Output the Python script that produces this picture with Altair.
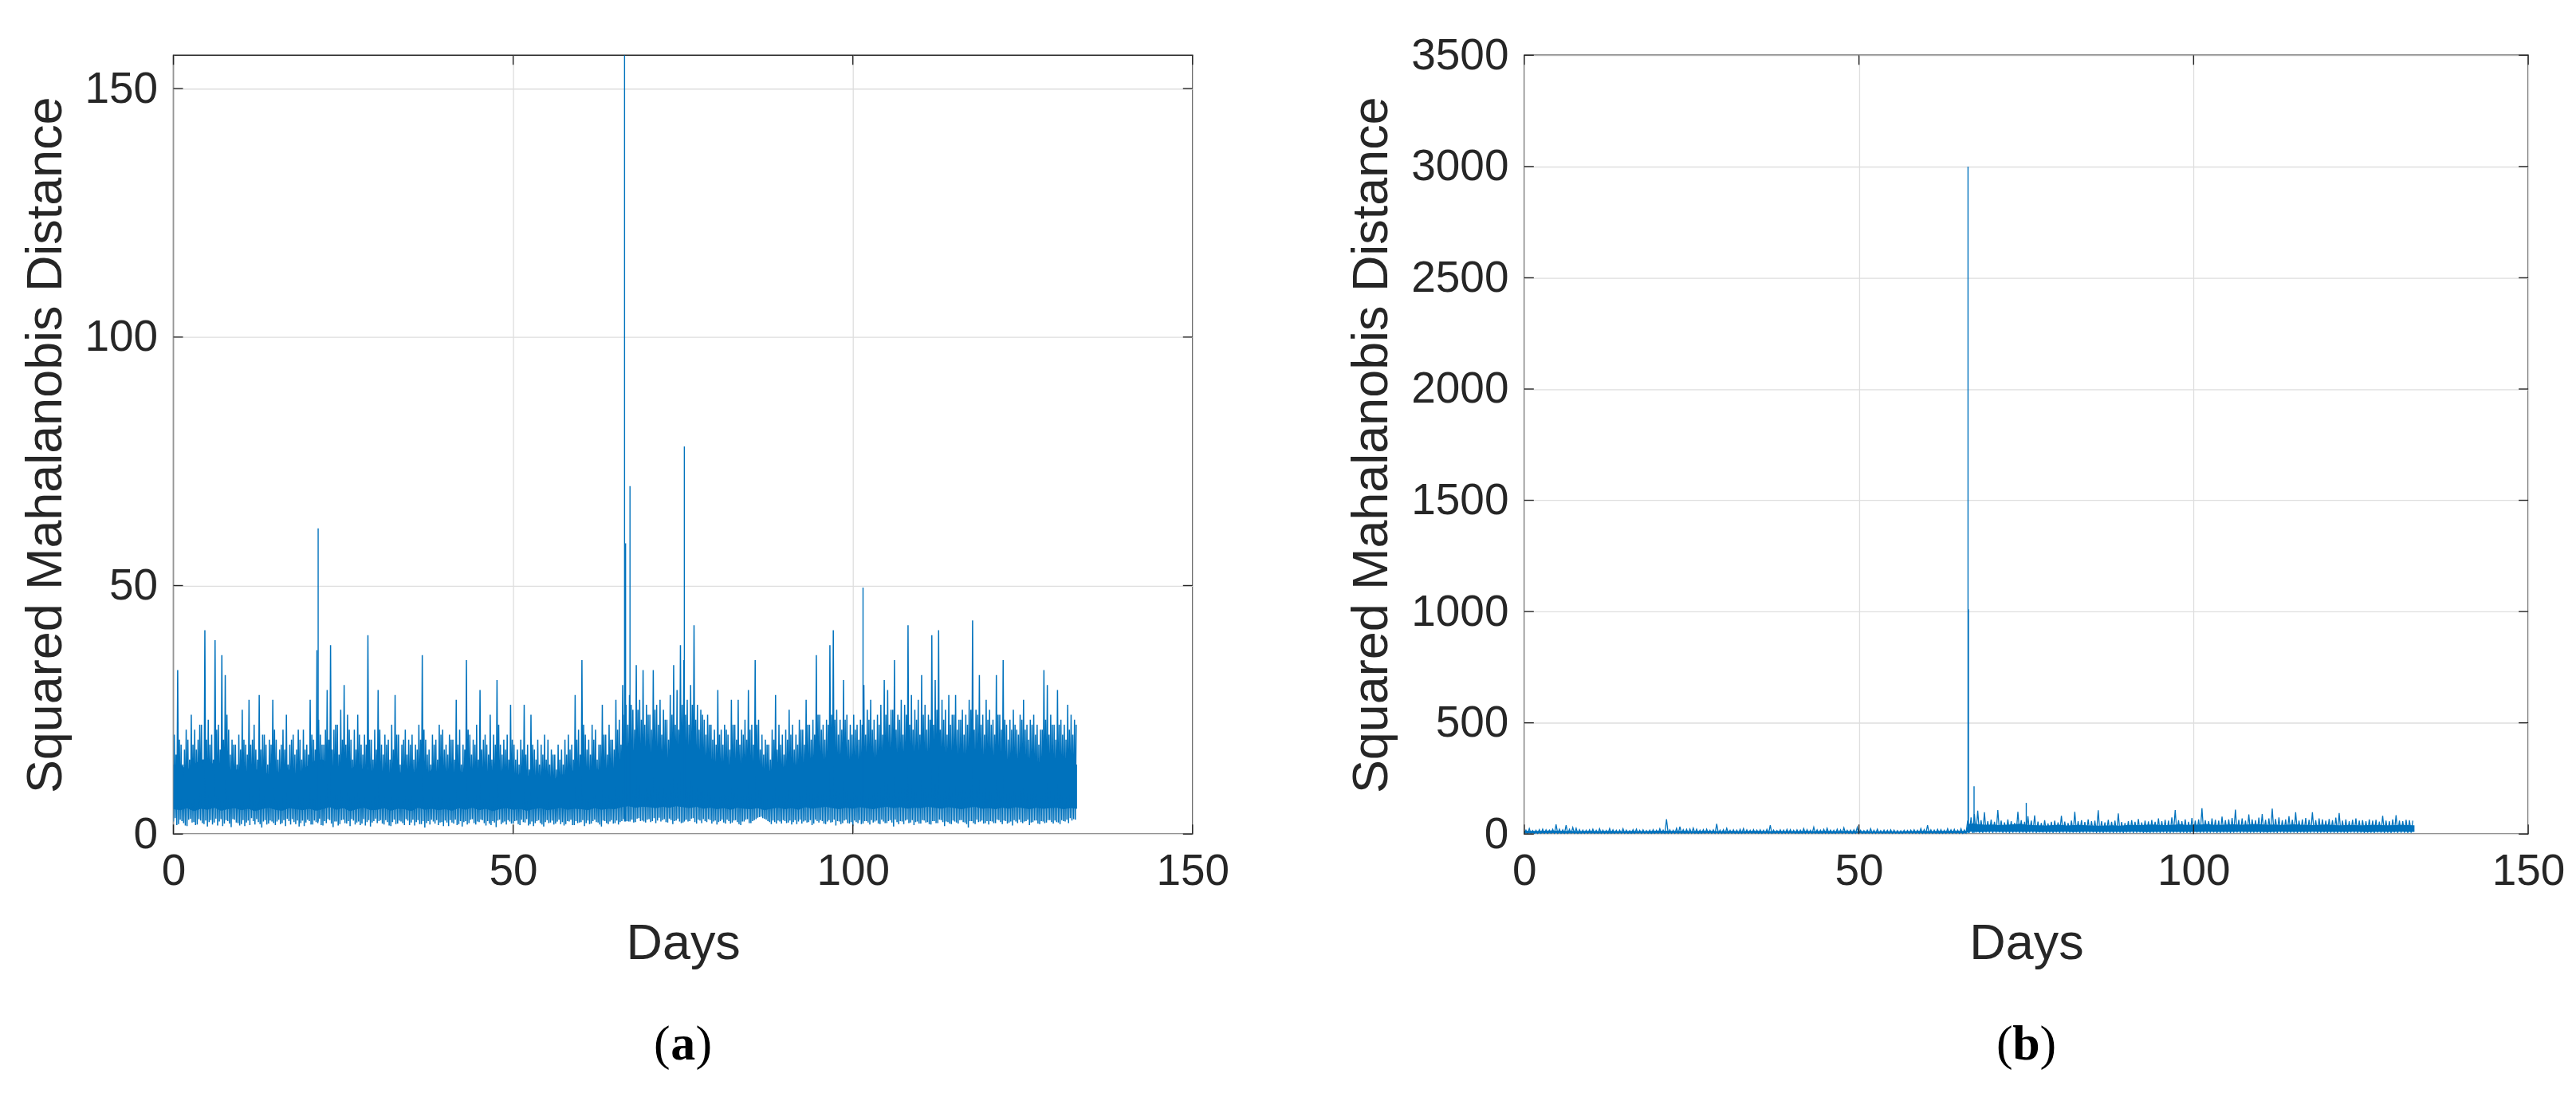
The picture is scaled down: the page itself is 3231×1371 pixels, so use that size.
import altair as alt
import pandas as pd

BLUE = "#0072BD"
DARK = "#262626"
GRID = "#dedede"
FONT = "Liberation Sans"
SERIF = "Liberation Serif"

# ---------------- panel (a) ----------------
# per half-day bin: maximum / minimum in the first and second quarter-day of the bin
a_pk = [20, 33, 18, 17, 19, 24, 21, 19, 22, 41,
        23, 20, 39, 22, 36, 32, 21, 19, 18, 20,
        25, 18, 27, 19, 17, 28, 20, 18, 19, 27,
        19, 17, 21, 24, 18, 20, 17, 19, 21, 18,
        27, 19, 37, 20, 18, 29, 38, 21, 22, 25,
        30, 24, 19, 21, 24, 18, 20, 40, 19, 21,
        29, 18, 20, 19, 22, 28, 20, 18, 21, 19,
        20, 18, 22, 36, 19, 17, 20, 19, 22, 21,
        18, 20, 19, 27, 21, 18, 35, 20, 19, 22,
        29, 19, 18, 24, 20, 31, 18, 19, 20, 26,
        18, 17, 19, 26, 18, 24, 17, 19, 18, 20,
        19, 17, 16, 18, 17, 19, 20, 18, 28, 21,
        35, 20, 19, 22, 21, 18, 26, 20, 22, 19,
        27, 23, 30, 26, 28, 25, 34, 27, 33, 26,
        24, 33, 26, 27, 25, 23, 28, 34, 29, 38,
        35, 27, 30, 42, 26, 25, 23, 24, 22, 21,
        29, 21, 22, 20, 27, 22, 27, 21, 23, 29,
        22, 35, 23, 20, 19, 18, 21, 28, 22, 20,
        21, 25, 22, 20, 23, 21, 27, 22, 23, 36,
        24, 22, 23, 38, 41, 25, 23, 31, 24, 22,
        24, 22, 23, 30, 25, 27, 23, 24, 26, 31,
        29, 25, 35, 24, 27, 26, 42, 28, 25, 27,
        32, 26, 24, 40, 31, 41, 27, 25, 28, 24,
        28, 23, 25, 24, 27, 43, 25, 32, 24, 27,
        25, 23, 32, 24, 35, 22, 23, 25, 21, 24,
        27, 22, 23, 24, 22, 21, 33, 30, 24, 22,
        29, 23, 22, 26, 24, 23]
a_lo = [2.5, 1.8, 2.9, 2.2, 1.6, 3.1, 2.4, 1.9, 2.7, 2.0,
        1.5, 2.8, 2.3, 1.7, 3.0, 2.1, 2.6, 1.4, 2.9, 2.2,
        2.0, 1.6, 2.7, 3.2, 1.9, 2.4, 1.3, 2.8, 2.1, 2.5,
        1.8, 2.9, 2.2, 1.6, 2.6, 3.0, 2.0, 1.5, 2.7, 2.3,
        2.6, 1.9, 2.4, 3.1, 1.7, 2.2, 2.8, 1.4, 2.5, 2.0,
        2.9, 2.1, 1.6, 2.7, 2.3, 1.8, 3.0, 2.4, 1.5, 2.6,
        2.2, 2.8, 1.9, 2.4, 1.6, 2.9, 2.1, 2.5, 1.8, 2.7,
        2.3, 1.7, 2.8, 2.0, 1.3, 2.6, 2.9, 2.1, 1.8, 2.4,
        2.7, 1.6, 2.3, 2.9, 2.0, 1.5, 2.6, 2.2, 3.0, 1.9,
        2.4, 2.8, 1.7, 2.1, 2.6, 1.4, 2.9, 2.3, 1.9, 2.5,
        2.1, 2.7, 1.8, 2.4, 3.0, 2.0, 1.6, 2.6, 2.2, 1.5,
        2.8, 2.3, 1.9, 2.5, 2.0, 1.7, 2.6, 2.9, 1.8, 2.2,
        2.4, 1.6, 2.7, 2.1, 2.9, 2.3, 1.5, 2.6, 2.0, 2.8,
        2.2, 1.9, 2.6, 3.1, 2.5, 2.9, 2.4, 3.2, 2.7, 2.3,
        3.0, 2.6, 2.2, 3.3, 2.8, 2.4, 3.1, 2.0, 2.7, 2.5,
        2.3, 2.9, 2.6, 3.2, 2.1, 2.7, 3.0, 2.4, 2.8, 2.5,
        1.9, 2.6, 2.3, 2.9, 2.1, 2.7, 2.4, 1.8, 2.5, 3.0,
        2.2, 2.8, 3.3, 3.5, 3.1, 2.6, 2.0, 2.4, 2.7, 2.1,
        2.6, 2.3, 1.9, 2.8, 2.5, 2.1, 2.7, 2.4, 1.8, 2.9,
        2.3, 2.6, 2.0, 2.8, 2.4, 1.7, 2.5, 2.2, 2.9, 2.1,
        1.6, 2.4, 2.8, 2.1, 2.6, 1.9, 2.3, 2.7, 2.0, 2.5,
        2.2, 2.8, 1.5, 2.4, 2.6, 2.0, 2.9, 2.3, 1.8, 2.5,
        2.1, 2.7, 2.4, 1.9, 2.6, 2.2, 2.8, 1.6, 2.4, 2.0,
        2.5, 2.1, 2.8, 2.3, 1.3, 2.6, 2.0, 2.4, 2.7, 2.2,
        1.9, 2.5, 2.2, 2.8, 2.0, 2.6, 2.3, 1.7, 2.5, 2.9,
        2.2, 2.6, 1.8, 2.4, 2.7, 2.0, 2.5, 2.3, 2.8, 2.1,
        2.4, 2.0, 2.6, 2.9, 3.2, 3.0]
a_pk2 = [16, 19, 14, 21, 15, 18, 17, 22, 15, 19,
         18, 15, 21, 17, 19, 24, 16, 18, 14, 17,
         19, 16, 18, 22, 15, 17, 20, 14, 18, 21,
         15, 18, 17, 14, 19, 16, 21, 15, 17, 16,
         20, 17, 23, 18, 21, 19, 17, 22, 16, 19,
         18, 21, 15, 17, 20, 16, 18, 19, 15, 17,
         21, 16, 18, 15, 17, 20, 14, 19, 16, 18,
         15, 17, 19, 21, 16, 14, 18, 15, 20, 17,
         16, 19, 15, 18, 14, 17, 21, 16, 18, 15,
         17, 20, 16, 15, 18, 22, 16, 17, 15, 19,
         15, 14, 17, 16, 13, 18, 15, 14, 16, 15,
         14, 16, 13, 15, 14, 16, 17, 15, 19, 16,
         22, 17, 16, 19, 15, 18, 20, 16, 19, 17,
         21, 18, 24, 22, 26, 21, 25, 23, 22, 24,
         21, 25, 22, 20, 23, 19, 24, 22, 21, 26,
         24, 22, 26, 23, 21, 24, 20, 22, 19, 18,
         20, 18, 21, 17, 22, 19, 18, 20, 19, 21,
         18, 22, 17, 16, 18, 15, 19, 17, 18, 16,
         19, 20, 17, 18, 21, 18, 22, 19, 20, 24,
         21, 19, 22, 24, 23, 20, 21, 23, 19, 20,
         21, 19, 22, 20, 23, 21, 19, 22, 20, 24,
         22, 25, 21, 23, 20, 24, 22, 21, 23, 20,
         24, 21, 23, 22, 25, 21, 23, 20, 22, 24,
         21, 23, 20, 22, 25, 21, 24, 22, 20, 23,
         22, 20, 24, 21, 23, 19, 21, 22, 20, 23,
         21, 19, 22, 20, 18, 21, 23, 20, 22, 19,
         22, 20, 19, 21, 20, 22]
a_lo2 = [3.2, 2.0, 2.6, 1.7, 2.9, 2.3, 1.8, 3.0, 2.2, 2.7,
         2.4, 1.9, 3.1, 2.5, 1.6, 2.8, 2.1, 3.0, 2.3, 1.7,
         2.8, 2.3, 1.8, 2.6, 3.0, 2.0, 2.5, 1.9, 2.7, 2.2,
         2.5, 2.0, 2.8, 3.1, 1.9, 2.4, 2.7, 2.2, 1.6, 2.9,
         1.9, 2.7, 2.2, 1.8, 2.6, 3.0, 2.1, 2.5, 1.7, 2.8,
         2.2, 2.6, 3.0, 1.9, 2.5, 2.1, 1.7, 2.8, 2.3, 3.1,
         2.6, 2.1, 2.8, 1.7, 2.4, 2.0, 2.7, 2.2, 3.0, 1.8,
         2.9, 2.4, 2.0, 2.6, 2.2, 1.9, 2.5, 2.8, 2.3, 1.6,
         2.3, 2.8, 2.1, 1.8, 2.6, 2.4, 1.9, 2.9, 2.2, 2.5,
         2.9, 2.2, 2.6, 1.8, 2.3, 2.7, 2.0, 2.5, 2.8, 2.1,
         2.6, 2.0, 2.9, 2.3, 1.7, 2.5, 2.2, 2.8, 1.9, 2.4,
         2.2, 2.7, 2.1, 2.9, 2.4, 2.0, 2.5, 1.8, 2.6, 2.3,
         2.8, 2.2, 2.0, 2.6, 2.4, 1.9, 2.7, 2.2, 2.5, 2.1,
         2.7, 2.4, 3.0, 2.6, 2.9, 2.3, 3.1, 2.6, 2.5, 2.9,
         2.4, 3.2, 2.7, 2.5, 3.0, 2.3, 2.8, 2.6, 3.1, 2.2,
         2.8, 2.5, 3.1, 2.4, 2.9, 2.2, 2.6, 3.0, 2.1, 2.7,
         2.4, 2.9, 2.1, 2.6, 2.3, 2.8, 2.0, 2.5, 2.9, 2.2,
         2.6, 3.0, 3.4, 3.2, 2.9, 2.4, 2.7, 2.1, 2.5, 2.8,
         2.2, 2.7, 2.4, 2.0, 2.9, 2.5, 2.3, 2.8, 2.1, 2.6,
         2.8, 2.1, 2.5, 2.3, 2.9, 2.6, 2.0, 2.7, 2.2, 2.4,
         2.7, 2.2, 2.0, 2.6, 2.3, 2.8, 2.5, 2.1, 2.9, 2.2,
         2.6, 2.3, 2.9, 2.0, 2.5, 2.7, 2.2, 2.8, 2.4, 2.1,
         2.8, 2.3, 2.0, 2.6, 2.2, 2.9, 2.4, 2.5, 2.1, 2.7,
         2.3, 2.8, 2.4, 2.0, 2.6, 2.2, 2.9, 2.5, 2.1, 2.6,
         2.6, 2.2, 2.9, 2.4, 2.7, 2.1, 2.5, 2.8, 2.2, 2.4,
         2.5, 2.9, 2.3, 2.7, 2.1, 2.6, 2.2, 2.8, 2.4, 2.7,
         2.3, 2.8, 2.5, 2.2, 2.7, 2.9]
# per day: lower and upper edge of the solid band
a_core_hi = [14, 14, 13, 14, 15, 15, 14, 13, 13, 13,
             13, 12, 13, 13, 12, 12, 13, 13, 12, 13,
             14, 15, 15, 14, 13, 13, 13, 14, 13, 13,
             12, 13, 12, 12, 13, 13, 12, 12, 13, 12,
             12, 12, 13, 12, 12, 13, 12, 12, 13, 12,
             12, 12, 12, 11, 11, 11, 11, 12, 12, 13,
             13, 12, 13, 13, 13, 13, 15, 16, 15, 15,
             15, 14, 14, 15, 15, 16, 15, 14, 14, 13,
             13, 14, 14, 13, 13, 13, 12, 12, 13, 13,
             13, 13, 14, 14, 14, 14, 15, 15, 14, 14,
             14, 14, 15, 14, 14, 15, 15, 15, 14, 14,
             15, 15, 15, 14, 14, 14, 15, 15, 14, 14,
             14, 14, 14, 13, 13, 13, 13, 13, 14, 14,
             14, 14, 14, 14]
a_core_lo = [5.0, 4.8, 5.2, 4.6, 5.1, 4.9, 5.3, 4.7, 5.0, 5.2,
             4.8, 5.1, 4.6, 5.0, 5.3, 4.9, 4.7, 5.2, 5.0, 4.8,
             5.1, 4.7, 5.0, 5.4, 4.9, 5.2, 4.6, 5.0, 5.3, 4.8,
             4.9, 5.2, 4.7, 5.1, 5.0, 4.6, 5.3, 4.9, 5.1, 4.8,
             5.0, 4.7, 5.2, 4.9, 5.3, 4.8, 5.1, 4.6, 5.0, 5.2,
             4.9, 5.1, 4.7, 5.0, 5.2, 4.8, 5.0, 5.3, 4.9, 5.1,
             5.0, 4.8, 5.2, 4.9, 5.1, 5.0, 5.4, 5.6, 5.3, 5.5,
             5.4, 5.2, 5.5, 5.3, 5.6, 5.4, 5.2, 5.5, 5.1, 5.3,
             5.0, 5.2, 4.9, 5.3, 5.1, 5.0, 5.2, 4.8, 5.1, 5.3,
             5.0, 5.2, 4.9, 5.4, 5.1, 5.3, 5.5, 5.2, 5.0, 5.3,
             5.1, 5.4, 5.2, 5.0, 5.3, 5.5, 5.2, 5.4, 5.1, 5.3,
             5.2, 5.5, 5.3, 5.1, 5.4, 5.2, 5.0, 5.3, 5.5, 5.1,
             5.2, 5.0, 5.3, 5.1, 5.4, 5.2, 5.0, 5.3, 5.1, 5.2,
             5.3, 5.0, 5.2, 5.1]
a_core_day = list(range(134))
# isolated tall spikes
a_spike_day = [21.3, 66.4, 66.55, 67.2, 75.2, 101.5]
a_spike_val = [61.5, 156.7, 58.5, 70, 78, 49.6]
a_ticks = [0, 50, 100, 150]

# ---------------- panel (b) ----------------
b_pk = [18, 25, 16, 17, 20, 22, 19, 18, 21, 43,
        22, 19, 40, 21, 30, 26, 20, 18, 17, 19,
        22, 17, 24, 18, 16, 25, 19, 17, 18, 24,
        18, 16, 20, 22, 17, 19, 16, 18, 20, 17,
        24, 18, 67, 19, 17, 26, 33, 20, 21, 23,
        27, 22, 18, 20, 22, 17, 19, 46, 18, 20,
        26, 17, 19, 18, 21, 25, 19, 17, 20, 18,
        19, 17, 21, 40, 18, 16, 19, 18, 21, 20,
        17, 19, 18, 25, 20, 17, 31, 19, 18, 21,
        26, 18, 17, 22, 19, 28, 17, 18, 19, 30,
        17, 16, 18, 24, 17, 22, 16, 18, 17, 19,
        18, 16, 15, 17, 16, 18, 19, 17, 25, 20,
        40, 19, 18, 21, 20, 17, 24, 19, 21, 18,
        24, 19, 60, 75, 90, 105, 62, 98, 58, 65,
        55, 108, 60, 52, 66, 58, 50, 100, 62, 55,
        80, 60, 84, 56, 50, 62, 48, 55, 60, 52,
        82, 56, 50, 60, 100, 58, 62, 54, 66, 58,
        60, 107, 58, 52, 64, 55, 60, 93, 54, 50,
        58, 62, 55, 68, 52, 60, 57, 63, 55, 70,
        58, 64, 60, 75, 108, 62, 58, 66, 55, 72,
        60, 66, 116, 62, 58, 70, 64, 60, 78, 62,
        66, 72, 110, 64, 70, 60, 88, 66, 62, 74,
        90, 64, 70, 114, 68, 75, 62, 66, 80, 64,
        98, 60, 66, 72, 64, 98, 62, 70, 66, 60,
        68, 62, 74, 95, 60, 66, 58, 64, 70, 60,
        62, 58, 66, 60, 64, 56, 82, 60, 58, 66,
        85, 60, 58, 64, 62, 60]
b_lo = [2.1, 1.6, 2.8, 2.3, 1.9, 2.6, 2.0, 1.5, 2.7, 2.2,
        1.8, 2.5, 2.1, 1.7, 2.9, 2.3, 1.6, 2.4, 2.0, 2.6,
        2.2, 1.9, 2.7, 2.4, 1.5, 2.1, 2.8, 2.0, 1.7, 2.5,
        2.3, 1.8, 2.6, 2.1, 2.9, 1.6, 2.4, 2.2, 1.9, 2.7,
        2.0, 2.5, 1.7, 2.3, 2.8, 2.1, 1.6, 2.6, 2.2, 1.9,
        2.7, 2.3, 1.8, 2.5, 2.0, 2.9, 2.2, 1.6, 2.4, 2.1,
        1.9, 2.6, 2.2, 1.7, 2.8, 2.3, 2.0, 2.5, 1.8, 2.7,
        2.4, 2.0, 2.6, 1.9, 2.3, 2.8, 2.1, 1.7, 2.5, 2.2,
        2.6, 1.8, 2.3, 2.9, 2.0, 2.4, 1.6, 2.7, 2.2, 1.9,
        2.5, 2.1, 2.8, 1.7, 2.4, 2.0, 2.6, 2.3, 1.8, 2.9,
        2.2, 1.9, 2.5, 2.7, 2.0, 1.6, 2.4, 2.1, 2.8, 2.3,
        1.8, 2.6, 2.2, 2.0, 2.5, 1.7, 2.9, 2.3, 2.1, 2.4,
        2.0, 2.6, 1.9, 2.3, 2.7, 2.2, 1.8, 2.5, 2.1, 2.4,
        2.2, 1.9,
        4.5, 5.8, 4.2, 6.1, 5.0, 4.7, 6.3, 5.2, 4.4, 5.6,
        6.0, 4.8, 5.3, 4.1, 5.7, 6.2, 4.9, 5.4, 4.3, 5.9,
        5.1, 4.6, 6.4, 5.5, 4.2, 5.8, 5.0, 6.1, 4.7, 5.3,
        4.4, 5.9, 5.2, 6.0, 4.8, 5.5, 4.3, 5.7, 6.2, 4.9,
        5.4, 4.5, 6.1, 5.0, 4.7, 5.8, 5.3, 4.2, 6.0, 5.1,
        4.6, 5.6, 6.3, 4.9, 5.2, 4.4, 5.9, 5.5, 4.8, 6.1,
        5.0, 4.3, 5.7, 6.2, 4.7, 5.4, 4.5, 5.8, 5.1, 6.0,
        4.9, 5.3, 4.2, 5.6, 6.1, 5.0, 4.6, 5.9, 5.2, 4.4,
        5.7, 6.0, 4.8, 5.5, 4.3, 5.8, 5.1, 6.2, 4.7, 5.4,
        4.5, 5.9, 5.2, 4.6, 6.1, 5.0, 4.4, 5.6, 5.3, 4.9,
        6.0, 5.1, 4.7, 5.8, 5.4, 4.2, 5.7, 6.3, 4.8, 5.5,
        5.0, 4.6, 5.9, 5.2, 4.3, 6.1, 5.4, 4.9, 5.6, 4.5,
        5.8, 5.1, 4.7, 6.0, 5.3, 4.4, 5.7, 5.0, 6.2, 4.8,
        5.5, 5.1, 4.6, 5.9]
b_core_day = list(range(67)) + [66.3] + list(range(67, 134))
b_core_hi = [15, 14, 14, 15, 16, 15, 14, 14, 13, 14,
             14, 13, 14, 14, 13, 13, 14, 13, 13, 14,
             15, 15, 14, 14, 14, 13, 14, 14, 14, 13,
             13, 14, 13, 13, 14, 14, 13, 13, 14, 13,
             13, 13, 14, 13, 13, 14, 13, 13, 14, 13,
             13, 13, 12, 12, 12, 12, 12, 13, 13, 14,
             14, 13, 14, 14, 14, 14, 14,
             45,
             48, 44, 42, 43, 40, 42, 44, 46, 42, 40,
             39, 38, 40, 42, 38, 40, 41, 39, 38, 37,
             38, 39, 37, 40, 41, 40, 42, 43, 41, 40,
             42, 44, 41, 42, 43, 45, 42, 41, 43, 44,
             42, 43, 45, 44, 42, 43, 41, 42, 44, 42,
             41, 40, 42, 43, 40, 39, 41, 40, 39, 40,
             41, 40, 39, 40, 41, 40, 39]
b_core_lo = [3.8, 4.0, 3.6, 4.2, 3.9, 4.1, 3.7, 4.0, 3.8, 4.3,
             3.9, 3.6, 4.1, 3.8, 4.0, 4.2, 3.7, 3.9, 4.1, 3.8,
             4.0, 3.7, 4.2, 3.9, 3.6, 4.1, 3.8, 4.0, 4.3, 3.9,
             3.7, 4.0, 3.8, 4.1, 3.9, 3.6, 4.2, 3.8, 4.0, 3.9,
             4.1, 3.8, 3.9, 4.2, 3.7, 4.0, 3.8, 4.1, 3.9, 3.6,
             4.0, 3.8, 4.2, 3.9, 3.7, 4.1, 3.8, 4.0, 3.9, 4.2,
             3.8, 4.0, 3.7, 4.1, 3.9, 4.0, 3.8,
             9.5,
             10.2, 9.1, 9.8, 10.5, 9.3, 9.9, 10.1, 9.4, 9.7, 10.3,
             9.2, 9.8, 10.0, 9.5, 10.4, 9.1, 9.7, 10.2, 9.6, 9.3,
             9.9, 10.1, 9.4, 9.8, 10.3, 9.5, 9.2, 10.0, 9.7, 10.4,
             9.6, 9.3, 10.1, 9.8, 9.5, 10.2, 9.9, 9.4, 10.0, 9.7,
             10.3, 9.5, 9.8, 10.1, 9.2, 9.9, 10.4, 9.6, 9.3, 10.0,
             9.7, 10.2, 9.4, 9.9, 10.1, 9.5, 9.8, 10.3, 9.6, 9.2,
             9.9, 10.0, 9.5, 9.8, 10.2, 9.6, 9.4]
b_spike_day = [66.3, 66.36, 67.2, 75.0]
b_spike_val = [3000, 1010, 215, 140]
b_yticks = [0, 500, 1000, 1500, 2000, 2500, 3000, 3500]
b_xticks = [0, 50, 100, 150]

assert len(a_pk) == len(a_lo) == len(a_pk2) == len(a_lo2) == 266
assert len(b_pk) == len(b_lo) == 266
assert len(a_core_hi) == len(a_core_lo) == len(a_core_day) == 134
assert len(b_core_hi) == len(b_core_lo) == len(b_core_day) == 135

Y_TITLE = "Squared Mahalanobis Distance"
H = 979


def zig_frame(lo, pk, lo2=None, pk2=None):
    rows = []
    for k in range(len(lo)):
        if lo2 is None:
            rows.append({"d": 0.5 * k, "v": lo[k]})
            rows.append({"d": 0.5 * k + 0.25, "v": pk[k]})
        else:
            rows.append({"d": 0.5 * k, "v": lo[k]})
            rows.append({"d": 0.5 * k + 0.125, "v": pk[k]})
            rows.append({"d": 0.5 * k + 0.25, "v": lo2[k]})
            rows.append({"d": 0.5 * k + 0.375, "v": pk2[k]})
    return pd.DataFrame(rows)


def panel(W, zig_df, core_day, core_lo, core_hi, sp_day, sp_val, sp_base,
          ydom, yticks, xticks, ytitle_x, letter, letter_half, zig_w):
    xs = alt.Scale(domain=[0, 150], nice=False, zero=False)
    ys = alt.Scale(domain=ydom, nice=False, zero=False)
    xaxis = alt.Axis(values=xticks, title="Days", grid=True, gridColor=GRID,
                     gridWidth=1.3, domain=False, ticks=False, labelFont=FONT,
                     labelFontSize=55, labelColor=DARK, labelPadding=20,
                     labelFlush=False, format="d", titleFont=FONT, titleFontSize=63,
                     titleFontWeight="normal", titleColor=DARK, titleX=W / 2,
                     titleY=138, titleBaseline="middle", titleAlign="center")
    yaxis = alt.Axis(values=yticks, title=Y_TITLE, grid=True, gridColor=GRID,
                     gridWidth=1.3, domain=False, ticks=False, labelFont=FONT,
                     labelFontSize=55, labelColor=DARK, labelPadding=20,
                     labelFlush=False, format="d", titleFont=FONT, titleFontSize=63,
                     titleFontWeight="normal", titleColor=DARK, titleAngle=270,
                     titleX=ytitle_x, titleY=H / 2, titleBaseline="middle",
                     titleAlign="center")
    X = alt.X("d:Q", scale=xs, axis=xaxis)
    Y = alt.Y("v:Q", scale=ys, axis=yaxis)

    core = alt.Chart(pd.DataFrame({"d": core_day, "v": core_lo, "v2": core_hi})).mark_area(
        color=BLUE, clip=True, opacity=1).encode(x=X, y=Y, y2="v2:Q")
    zig = alt.Chart(zig_df).mark_line(
        color=BLUE, strokeWidth=zig_w, clip=True).encode(x=X, y=Y)
    spk = alt.Chart(pd.DataFrame({"d": sp_day, "v": sp_val, "b": [sp_base] * len(sp_day)})).mark_rule(
        color=BLUE, strokeWidth=1.4, clip=True).encode(x=X, y=Y, y2="b:Q")

    ydf = pd.DataFrame({"v": yticks})
    xdf = pd.DataFrame({"d": xticks})
    tk = dict(color=DARK, strokeWidth=1.4)
    yt_l = alt.Chart(ydf).mark_rule(**tk).encode(y=Y, x=alt.value(0), x2=alt.value(12))
    yt_r = alt.Chart(ydf).mark_rule(**tk).encode(y=Y, x=alt.value(W - 12), x2=alt.value(W))
    xt_b = alt.Chart(xdf).mark_rule(**tk).encode(x=X, y=alt.value(H - 12), y2=alt.value(H))
    xt_t = alt.Chart(xdf).mark_rule(**tk).encode(x=X, y=alt.value(0), y2=alt.value(12))

    one = pd.DataFrame({"c": [0]})
    cy = H + 264
    cap1 = alt.Chart(one).mark_text(text="(", font=SERIF, fontSize=62, align="right",
                                    baseline="middle", color="#000000").encode(
        x=alt.value(W / 2 - letter_half), y=alt.value(cy))
    cap2 = alt.Chart(one).mark_text(text=letter, font=SERIF, fontSize=62, fontWeight="bold",
                                    align="center", baseline="middle", color="#000000").encode(
        x=alt.value(W / 2), y=alt.value(cy))
    cap3 = alt.Chart(one).mark_text(text=")", font=SERIF, fontSize=62, align="left",
                                    baseline="middle", color="#000000").encode(
        x=alt.value(W / 2 + letter_half), y=alt.value(cy))

    return alt.layer(core, zig, spk, yt_l, yt_r, xt_b, xt_t, cap1, cap2, cap3).properties(
        width=W, height=H)


pa = panel(1281, zig_frame(a_lo, a_pk, a_lo2, a_pk2), a_core_day, a_core_lo, a_core_hi,
           a_spike_day, a_spike_val, 2.5, [0, 156.7], a_ticks, a_ticks,
           -160, "a", 16, 1.5)
pb = panel(1262, zig_frame(b_lo, b_pk), b_core_day, b_core_lo, b_core_hi,
           b_spike_day, b_spike_val, 5, [0, 3500], b_yticks, b_xticks,
           -192, "b", 17, 1.3)

chart = alt.hconcat(pa, pb, spacing=146).properties(
    padding={"left": 18, "top": 32, "right": 5, "bottom": 5},
    background="white",
).configure_view(stroke=DARK, strokeWidth=1.5)

chart.save("out.html", embed_options={"renderer": "svg", "actions": False})
